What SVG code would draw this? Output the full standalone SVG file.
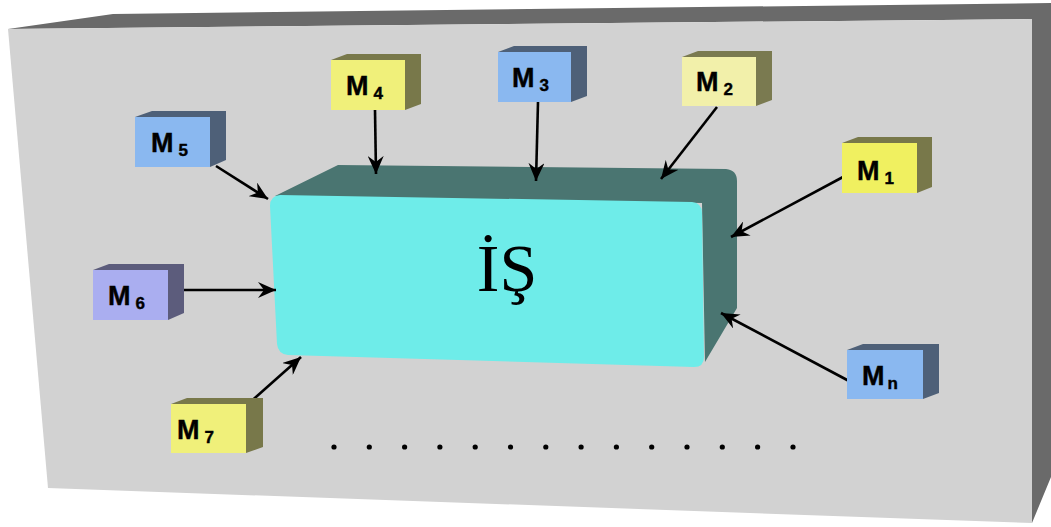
<svg xmlns="http://www.w3.org/2000/svg" width="1051" height="527" viewBox="0 0 1051 527">
  <style>
    .board-front { fill: #d2d2d2; }
    .board-side { fill: #6a6a6a; }
    .job-front { fill: #6eece9; }
    .job-side { fill: #4a7571; }
    .lbl { font-family: "Liberation Sans", Arial, sans-serif; font-weight: bold; fill: #000; stroke: #000; stroke-width: 0.4; }
    .lbl .m { font-size: 27px; }
    .lbl .sub { font-size: 17px; }
    .blue .f { fill: #8ab8f0; } .blue .s { fill: #4e6078; }
    .yellow .f { fill: #f0f07a; } .yellow .s { fill: #78784a; }
    .bright .f { fill: #f0f060; } .bright .s { fill: #78784a; }
    .pale .f { fill: #f2f0aa; } .pale .s { fill: #7a7a50; }
    .lav .f { fill: #aaaef0; } .lav .s { fill: #5c5c7c; }
    .conn line { stroke: #000; stroke-width: 2.6; fill: none; marker-end: url(#arrow); }
    .dots circle { fill: #000; }
  </style>
  <defs>
    <marker id="arrow" markerUnits="userSpaceOnUse" markerWidth="20" markerHeight="16" refX="18" refY="8" orient="auto">
      <path d="M0,0 L18,8 L0,16 L6,8 Z" fill="#000"/>
    </marker>
  </defs>

  <!-- wall -->
  <g id="wall">
    <polygon class="board-side" points="8,29 113,14 1051,3 1051,477 1032,523 1032,19"/>
    <polygon class="board-front" points="8,29 1032,19 1032,523 48,488"/>
  </g>

  <!-- central job block -->
  <g id="job">
    <path class="job-side" d="M275,196 L338,165 L726,169 Q737,170 737,181 L737,308 L705,362 L702,203 Z"/>
    <path class="job-front" d="M280,195 L692,202 Q702,203 702,213 L704,357 Q704,367 694,367 L288,355 Q278,354 277,344 L270,206 Q270,196 280,195 Z"/>
    <text x="507" y="291" text-anchor="middle" font-family="Liberation Serif, 'Times New Roman', serif" font-size="68" fill="#000">İŞ</text>
  </g>

  <!-- connectors -->
  <g id="connectors" class="conn">
    <line x1="216" y1="166" x2="268" y2="199"/>
    <line x1="375" y1="110" x2="376" y2="174"/>
    <line x1="538" y1="102" x2="536" y2="181"/>
    <line x1="717" y1="107" x2="661" y2="179"/>
    <line x1="843" y1="177" x2="731" y2="237"/>
    <line x1="184" y1="290" x2="276" y2="290"/>
    <line x1="247" y1="405" x2="301" y2="357"/>
    <line x1="849" y1="381" x2="721" y2="313"/>
  </g>

  <!-- machines -->
  <g id="m1" class="bright">
    <polygon class="s" points="842,143 858,137 932,137 932,187 917,193 917,143"/>
    <rect class="f" x="842" y="143" width="75" height="50"/>
    <text class="lbl" x="857" y="180"><tspan class="m">M</tspan><tspan class="sub" dx="5" dy="4">1</tspan></text>
  </g>
  <g id="m2" class="pale">
    <polygon class="s" points="682,57 698,51 772,51 772,100 756,106 756,57"/>
    <rect class="f" x="682" y="57" width="74" height="49"/>
    <text class="lbl" x="696" y="91"><tspan class="m">M</tspan><tspan class="sub" dx="5" dy="4">2</tspan></text>
  </g>
  <g id="m3" class="blue">
    <polygon class="s" points="498,52 514,46 587,46 587,96 571,102 571,52"/>
    <rect class="f" x="498" y="52" width="73" height="50"/>
    <text class="lbl" x="512" y="87"><tspan class="m">M</tspan><tspan class="sub" dx="5" dy="4">3</tspan></text>
  </g>
  <g id="m4" class="yellow">
    <polygon class="s" points="331,60 347,54 421,54 421,104 405,110 405,60"/>
    <rect class="f" x="331" y="60" width="74" height="50"/>
    <text class="lbl" x="346" y="95"><tspan class="m">M</tspan><tspan class="sub" dx="5" dy="4">4</tspan></text>
  </g>
  <g id="m5" class="blue">
    <polygon class="s" points="135,117 152,111 226,111 226,160 210,167 210,117"/>
    <rect class="f" x="135" y="117" width="75" height="50"/>
    <text class="lbl" x="151" y="152"><tspan class="m">M</tspan><tspan class="sub" dx="5" dy="4">5</tspan></text>
  </g>
  <g id="m6" class="lav">
    <polygon class="s" points="93,270 109,264 184,264 184,313 168,320 168,270"/>
    <rect class="f" x="93" y="270" width="75" height="50"/>
    <text class="lbl" x="108" y="305"><tspan class="m">M</tspan><tspan class="sub" dx="5" dy="4">6</tspan></text>
  </g>
  <g id="m7" class="yellow">
    <polygon class="s" points="171,404 187,398 263,398 263,447 246,453 246,404"/>
    <rect class="f" x="171" y="404" width="75" height="49"/>
    <text class="lbl" x="177" y="439"><tspan class="m">M</tspan><tspan class="sub" dx="5" dy="4">7</tspan></text>
  </g>
  <g id="mn" class="blue">
    <polygon class="s" points="847,350 863,344 939,344 939,393 923,399 923,350"/>
    <rect class="f" x="847" y="350" width="76" height="49"/>
    <text class="lbl" x="862" y="385"><tspan class="m">M</tspan><tspan class="sub" dx="3" dy="4">n</tspan></text>
  </g>

  <!-- continuation dots -->
  <g id="more" class="dots">
    <circle cx="334" cy="447" r="2.6"/>
    <circle cx="369.3" cy="447" r="2.6"/>
    <circle cx="404.6" cy="447" r="2.6"/>
    <circle cx="439.9" cy="447" r="2.6"/>
    <circle cx="475.2" cy="447" r="2.6"/>
    <circle cx="510.5" cy="447" r="2.6"/>
    <circle cx="545.8" cy="447" r="2.6"/>
    <circle cx="581.1" cy="447" r="2.6"/>
    <circle cx="616.4" cy="447" r="2.6"/>
    <circle cx="651.7" cy="447" r="2.6"/>
    <circle cx="687" cy="447" r="2.6"/>
    <circle cx="722.3" cy="447" r="2.6"/>
    <circle cx="757.6" cy="447" r="2.6"/>
    <circle cx="793" cy="447" r="2.6"/>
  </g>
</svg>
